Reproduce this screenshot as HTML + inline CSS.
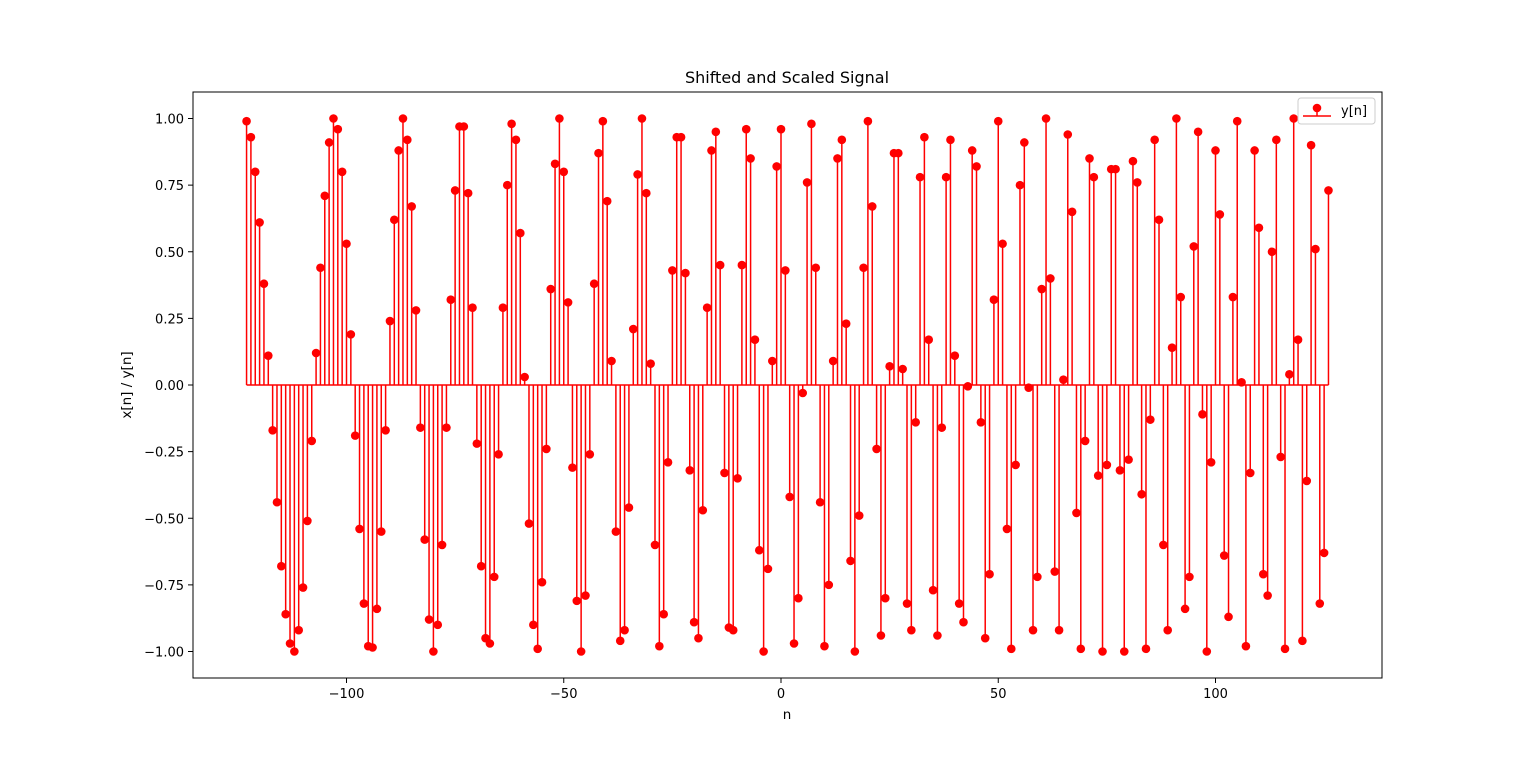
<!DOCTYPE html>
<html><head><meta charset="utf-8"><style>
body{margin:0;background:#fff;font-family:"Liberation Sans","DejaVu Sans",sans-serif}
svg text{font-family:"DejaVu Sans","Liberation Sans",sans-serif}
</style></head><body>
<svg id="chart" width="1536" height="762" xmlns="http://www.w3.org/2000/svg">
<rect width="1536" height="762" fill="#fff"/>
<g id="plot"></g>
<rect x="193" y="92" width="1189" height="586" fill="none" stroke="#000" stroke-width="1"/>
<text x="787" y="83" font-size="16" text-anchor="middle">Shifted and Scaled Signal</text>
<text x="787" y="719" font-size="13.5" text-anchor="middle">n</text>
<text transform="translate(131,385) rotate(-90)" font-size="13.5" text-anchor="middle">x[n] / y[n]</text>
<g>
<rect x="1298" y="98" width="77" height="26" rx="3" fill="#fff" stroke="#ccc"/>
<line x1="1303" y1="116" x2="1331" y2="116" stroke="red" stroke-width="1.5"/>
<line x1="1317" y1="116" x2="1317" y2="108" stroke="red" stroke-width="1.5"/>
<circle cx="1317" cy="108" r="4.3" fill="red"/>
<text x="1341" y="115" font-size="13">y[n]</text>
</g>
</svg>
<script>
const nValues = [];
for (let n = -123; n <= 126; n++) nValues.push(n);
const yValues = [0.99,0.93,0.80,0.61,0.38,0.11,-0.17,-0.44,-0.68,-0.86,-0.97,-1.00,-0.92,-0.76,-0.51,-0.21,0.12,0.44,0.71,0.91,1.00,0.96,0.80,0.53,0.19,-0.19,-0.54,-0.82,-0.98,-0.985,-0.84,-0.55,-0.17,0.24,0.62,0.88,1.00,0.92,0.67,0.28,-0.16,-0.58,-0.88,-1.00,-0.90,-0.60,-0.16,0.32,0.73,0.97,0.97,0.72,0.29,-0.22,-0.68,-0.95,-0.97,-0.72,-0.26,0.29,0.75,0.98,0.92,0.57,0.03,-0.52,-0.90,-0.99,-0.74,-0.24,0.36,0.83,1.00,0.80,0.31,-0.31,-0.81,-1.00,-0.79,-0.26,0.38,0.87,0.99,0.69,0.09,-0.55,-0.96,-0.92,-0.46,0.21,0.79,1.00,0.72,0.08,-0.60,-0.98,-0.86,-0.29,0.43,0.93,0.93,0.42,-0.32,-0.89,-0.95,-0.47,0.29,0.88,0.95,0.45,-0.33,-0.91,-0.92,-0.35,0.45,0.96,0.85,0.17,-0.62,-1.00,-0.69,0.09,0.82,0.96,0.43,-0.42,-0.97,-0.80,-0.03,0.76,0.98,0.44,-0.44,-0.98,-0.75,0.09,0.85,0.92,0.23,-0.66,-1.00,-0.49,0.44,0.99,0.67,-0.24,-0.94,-0.80,0.07,0.87,0.87,0.06,-0.82,-0.92,-0.14,0.78,0.93,0.17,-0.77,-0.94,-0.16,0.78,0.92,0.11,-0.82,-0.89,-0.005,0.88,0.82,-0.14,-0.95,-0.71,0.32,0.99,0.53,-0.54,-0.99,-0.30,0.75,0.91,-0.01,-0.92,-0.72,0.36,1.00,0.40,-0.70,-0.92,0.02,0.94,0.65,-0.48,-0.99,-0.21,0.85,0.78,-0.34,-1.00,-0.30,0.81,0.81,-0.32,-1.00,-0.28,0.84,0.76,-0.41,-0.99,-0.13,0.92,0.62,-0.60,-0.92,0.14,1.00,0.33,-0.84,-0.72,0.52,0.95,-0.11,-1.00,-0.29,0.88,0.64,-0.64,-0.87,0.33,0.99,0.01,-0.98,-0.33,0.88,0.59,-0.71,-0.79,0.50,0.92,-0.27,-0.99,0.04,1.00,0.17,-0.96,-0.36,0.90,0.51,-0.82,-0.63,0.73];
const xTicks = [-100,-50,0,50,100];
const yTicks = [-1.00,-0.75,-0.50,-0.25,0.00,0.25,0.50,0.75,1.00];
const X = v => 781 + v * 4.345;
const Y = v => 385 - v * 266.5;
const NS = 'http://www.w3.org/2000/svg';
const g = document.getElementById('plot');
function mk(tag, attrs){const e=document.createElementNS(NS,tag);for(const k in attrs)e.setAttribute(k,attrs[k]);return e;}
xTicks.forEach(t=>{
  const l=mk('line',{x1:X(t),x2:X(t),y1:678,y2:683,stroke:'#000'});
  
  
  g.appendChild(l);
  const tx=mk('text',{x:X(t),y:698,'font-size':13,'text-anchor':'middle'});
  
  
  tx.textContent=t<0?'\u2212'+(-t):String(t);
  g.appendChild(tx);
});
yTicks.forEach(t=>{
  const l=mk('line',{x1:188,x2:193,y1:Y(t),y2:Y(t),stroke:'#000'});
  
  
  g.appendChild(l);
  const tx=mk('text',{x:184,y:Y(t)+5,'font-size':13,'text-anchor':'end'});
  
  
  tx.textContent=(t<0?'\u2212':'')+Math.abs(t).toFixed(2);
  g.appendChild(tx);
});
nValues.forEach((n,i)=>{
  const s=mk('line',{x1:X(n),x2:X(n),y1:Y(0),y2:Y(yValues[i]),stroke:'red','stroke-width':1.5});
  
  
  g.appendChild(s);
});
const base=mk('line',{x1:X(nValues[0]),x2:X(nValues[nValues.length-1]),y1:Y(0),y2:Y(0),stroke:'red','stroke-width':1.5});


g.appendChild(base);
nValues.forEach((n,i)=>{
  const c=mk('circle',{cx:X(n),cy:Y(yValues[i]),r:4.3,fill:'red'});
  
  
  g.appendChild(c);
});
</script>
</body></html>
